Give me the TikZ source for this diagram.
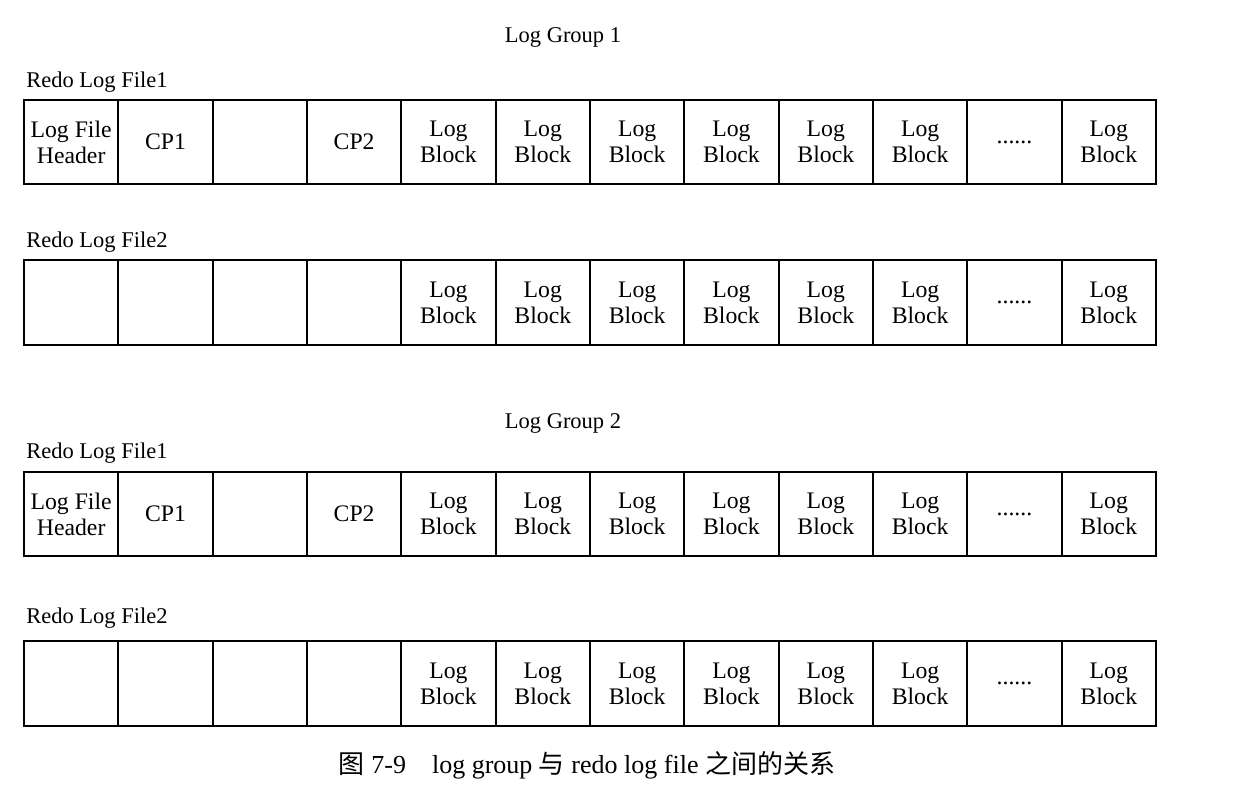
\documentclass[tikz,border=0pt]{standalone}
\usepackage{fontspec}
\setmainfont{Liberation Serif}
\newfontfamily\cjk{Noto Sans CJK SC}
\usetikzlibrary{positioning}
\newcommand{\sixdots}{......}

\begin{document}
\begin{tikzpicture}[x=0.02cm, y=-0.02cm,
    cell/.style={draw, line width=1pt, outer sep=0pt, inner sep=0pt,
                 minimum width=1.8867cm, minimum height=1.69cm, align=center,
                 font=\fontsize{13.5}{14.7}\selectfont},
    filelabel/.style={anchor=west, inner sep=0pt, font=\fontsize{12.8}{14}\selectfont},
    grouplabel/.style={inner sep=0pt, font=\fontsize{12.8}{14}\selectfont},
]
\useasboundingbox (0,0) rectangle (1252,787);

% group 1
\node[grouplabel] (g1) at (563,37) {Log Group 1};
\node[filelabel] (g1f1) at (26,82) {Redo Log File1};
\foreach \t [count=\i] in {{Log File\\Header},CP1,{},CP2,{Log\\Block},{Log\\Block},{Log\\Block},{Log\\Block},{Log\\Block},{Log\\Block},\sixdots,{Log\\Block}}
    \node[cell] (a\i) at ({24+94.33*(\i-0.5)},142) {\t};
\node[filelabel] (g1f2) at (26,242) {Redo Log File2};
\foreach \t [count=\i] in {{},{},{},{},{Log\\Block},{Log\\Block},{Log\\Block},{Log\\Block},{Log\\Block},{Log\\Block},\sixdots,{Log\\Block}}
    \node[cell] (b\i) at ({24+94.33*(\i-0.5)},302.5) {\t};

% group 2
\node[grouplabel] (g2) at (563,423) {Log Group 2};
\node[filelabel] (g2f1) at (26,453) {Redo Log File1};
\foreach \t [count=\i] in {{Log File\\Header},CP1,{},CP2,{Log\\Block},{Log\\Block},{Log\\Block},{Log\\Block},{Log\\Block},{Log\\Block},\sixdots,{Log\\Block}}
    \node[cell] (c\i) at ({24+94.33*(\i-0.5)},514) {\t};
\node[filelabel] (g2f2) at (26,618) {Redo Log File2};
\foreach \t [count=\i] in {{},{},{},{},{Log\\Block},{Log\\Block},{Log\\Block},{Log\\Block},{Log\\Block},{Log\\Block},\sixdots,{Log\\Block}}
    \node[cell] (d\i) at ({24+94.33*(\i-0.5)},683.5) {\t};

\node[inner sep=0pt, font=\fontsize{14.8}{16}\selectfont] (cap) at (587,765)
    {{\cjk 图} 7-9\quad log group {\cjk 与} redo log file {\cjk 之间的关系}};
\end{tikzpicture}
\end{document}
